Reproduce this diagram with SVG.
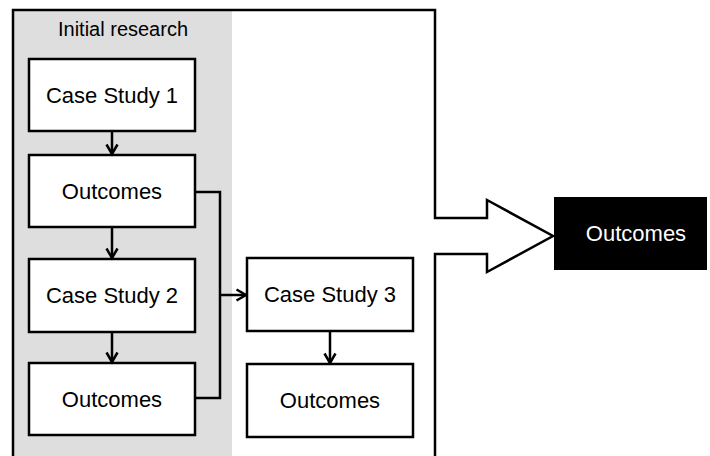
<svg xmlns="http://www.w3.org/2000/svg" width="710" height="456" viewBox="0 0 710 456">
<defs>
<marker id="arr" viewBox="0 0 14 14" refX="12.5" refY="7" markerWidth="14" markerHeight="14" markerUnits="userSpaceOnUse" orient="auto">
<polyline points="3,1.5 12.5,7 3,12.5" fill="none" stroke="#000" stroke-width="2.5"/>
</marker>
<style>
.box{fill:#fff;stroke:#000;stroke-width:2.5}
.t{font-family:"Liberation Sans",Arial,sans-serif;font-size:22px;fill:#000;text-anchor:middle}
.c{fill:none;stroke:#000;stroke-width:2.5}
</style>
</defs>
<rect width="710" height="456" fill="#fff"/>
<g id="initial-research">
<rect x="13" y="10" width="219" height="450" fill="#dedede"/>
<text class="t" x="123" y="36" style="font-size:20px">Initial research</text>
</g>
<g id="frame">
<path d="M13,462 L13,10 L435,10 L435,218 L487,218 L487,200 L553,236 L487,272 L487,254 L435,254 L435,462" fill="none" stroke="#000" stroke-width="2.5"/>
</g>
<g id="connectors">
<line class="c" x1="112" y1="131" x2="112" y2="154" marker-end="url(#arr)"/>
<line class="c" x1="112" y1="227" x2="112" y2="258" marker-end="url(#arr)"/>
<line class="c" x1="112" y1="332" x2="112" y2="362" marker-end="url(#arr)"/>
<polyline class="c" points="195,192 220,192 220,398 195,398"/>
<line class="c" x1="220" y1="295" x2="246" y2="295" marker-end="url(#arr)"/>
<line class="c" x1="330" y1="331" x2="330" y2="363" marker-end="url(#arr)"/>
</g>
<g id="cs1">
<rect class="box" x="29" y="59" width="166" height="72"/>
<text class="t" x="112" y="103">Case Study 1</text>
</g>
<g id="out1">
<rect class="box" x="29" y="155" width="166" height="72"/>
<text class="t" x="112" y="199">Outcomes</text>
</g>
<g id="cs2">
<rect class="box" x="29" y="259" width="166" height="73"/>
<text class="t" x="112" y="303">Case Study 2</text>
</g>
<g id="out2">
<rect class="box" x="29" y="363" width="166" height="72"/>
<text class="t" x="112" y="407">Outcomes</text>
</g>
<g id="cs3">
<rect class="box" x="247" y="258" width="166" height="73"/>
<text class="t" x="330" y="302">Case Study 3</text>
</g>
<g id="out3">
<rect class="box" x="247" y="364" width="166" height="73"/>
<text class="t" x="330" y="408">Outcomes</text>
</g>
<g id="final-outcomes">
<rect x="554" y="197" width="153" height="73" fill="#000"/>
<text class="t" x="636" y="241" style="fill:#fff">Outcomes</text>
</g>
</svg>
